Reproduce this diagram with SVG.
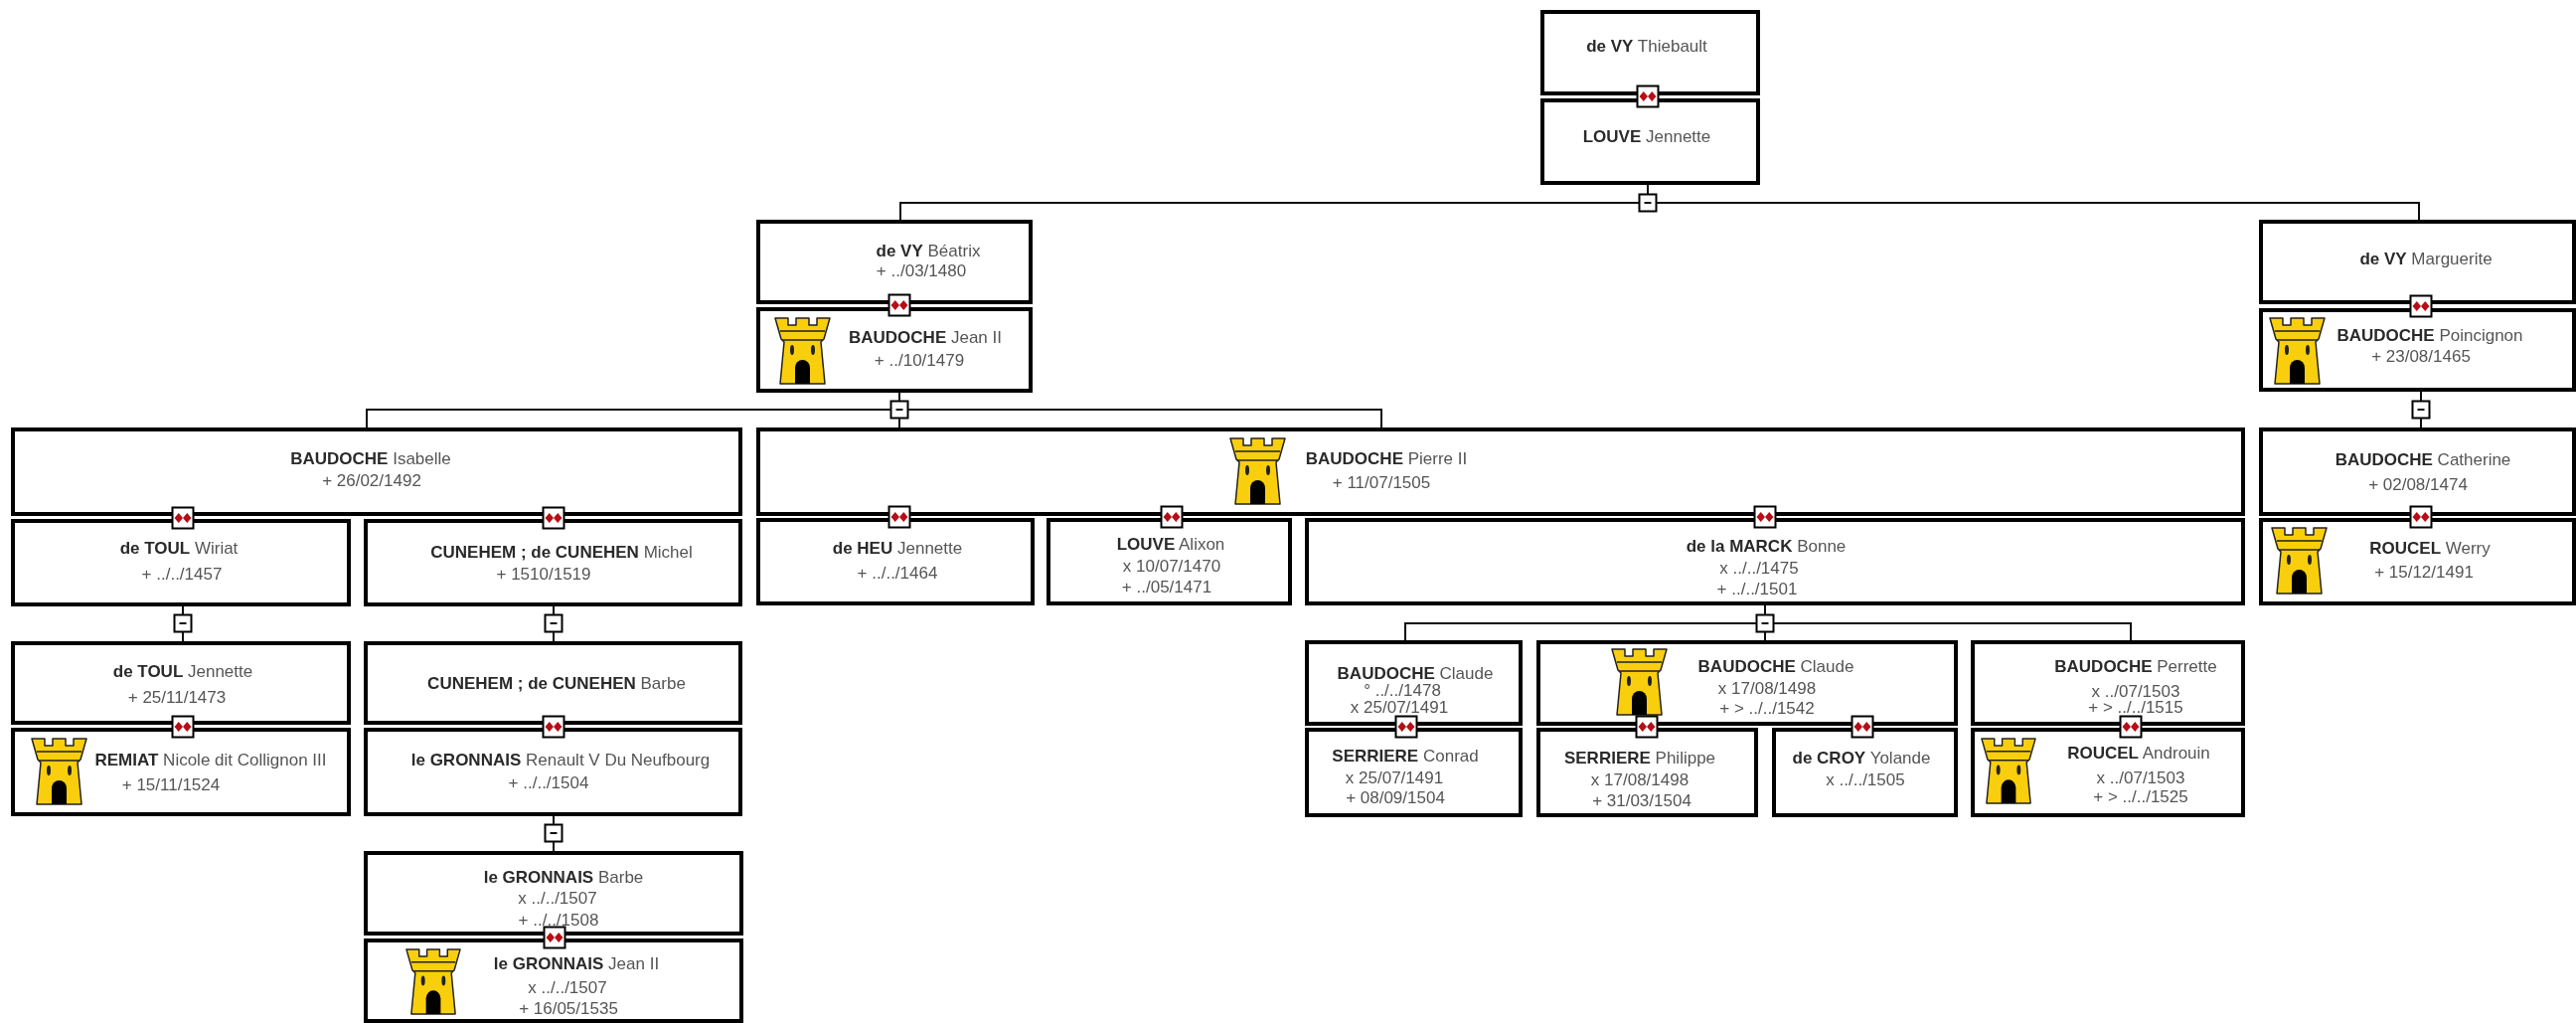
<svg xmlns="http://www.w3.org/2000/svg" width="2592" height="1029" viewBox="0 0 2592 1029">
<style>
text{font-family:"Liberation Sans",Arial,sans-serif;font-size:17px;fill:#555;text-anchor:middle}
tspan.b{font-weight:700;fill:#2a2a2a}
.box{fill:#fff;stroke:#000;stroke-width:4}
.c{fill:none;stroke:#111;stroke-width:2}
.s{fill:#fff;stroke:#000;stroke-width:2}
.d{fill:#b81018}
.m{fill:#111}
</style>
<defs>
<filter id="soft" filterUnits="userSpaceOnUse" x="0" y="0" width="2592" height="1029"><feGaussianBlur stdDeviation="0.45"/></filter>
<symbol id="tower" viewBox="0 0 57 68">
<path d="M1 1H14V8H22V1H35V8H43V1H56L50 22L47 25L51 67H6L10 25L7 22Z" fill="#f9cf0a" stroke="#222" stroke-width="1.5" stroke-linejoin="round"/>
<path d="M6 14H51M8 23H49" fill="none" stroke="#222" stroke-width="1.5"/>
<ellipse cx="18" cy="33" rx="2" ry="5" fill="#222"/><ellipse cx="39" cy="33" rx="2" ry="5" fill="#222"/>
<path d="M21 67V51A7.500 8 0 0 1 36 51V67Z" fill="#000"/>
</symbol>
<g id="wed"><rect class="s" x="-10.500" y="-10.500" width="21" height="21"/><path class="d" d="M-8.500 0L-4.250 -5L0 0L4.250 -5L8.500 0L4.250 5L0 0L-4.250 5Z"/></g>
<g id="minus"><rect class="s" x="-8.500" y="-8.500" width="17" height="17"/><rect class="m" x="-3.500" y="-1" width="7" height="2"/></g>
</defs>
<rect width="2592" height="1029" fill="#fff"/>
<g id="diagram" filter="url(#soft)">
<g id="connectors">
<path class="c" d="M1658 184V204M906 223V204H2434V223M905 393V432M369 432V412H1390V432M184 608V647M557 608V647M557 819V858M2436 392V431M1776 607V627M1414 646V627H2144V646M1776 627V646"/>
</g>
<g id="n1"><rect class="box" x="1552" y="12" width="217" height="82"/><text x="1657" y="52"><tspan class="b">de VY</tspan> Thiebault</text></g>
<g id="n2"><rect class="box" x="1552" y="101" width="217" height="83"/><text x="1657" y="143"><tspan class="b">LOUVE</tspan> Jennette</text></g>
<g id="n3"><rect class="box" x="763" y="223" width="274" height="81"/><text x="934" y="258"><tspan class="b">de VY</tspan> Béatrix</text><text x="927" y="278">+ ../03/1480</text></g>
<g id="n4"><rect class="box" x="763" y="311" width="274" height="82"/><use href="#tower" x="779" y="319" width="57" height="68"/><text x="931" y="345"><tspan class="b">BAUDOCHE</tspan> Jean II</text><text x="925" y="368">+ ../10/1479</text></g>
<g id="n5"><rect class="box" x="2275" y="223" width="315" height="81"/><text x="2441" y="266"><tspan class="b">de VY</tspan> Marguerite</text></g>
<g id="n6"><rect class="box" x="2275" y="312" width="315" height="80"/><use href="#tower" x="2283" y="319" width="57" height="68"/><text x="2445" y="343"><tspan class="b">BAUDOCHE</tspan> Poincignon</text><text x="2436" y="364">+ 23/08/1465</text></g>
<g id="n7"><rect class="box" x="2275" y="432" width="315" height="85"/><text x="2438" y="468"><tspan class="b">BAUDOCHE</tspan> Catherine</text><text x="2433" y="493">+ 02/08/1474</text></g>
<g id="n8"><rect class="box" x="2275" y="523" width="315" height="84"/><use href="#tower" x="2285" y="529" width="57" height="70"/><text x="2445" y="557"><tspan class="b">ROUCEL</tspan> Werry</text><text x="2439" y="581">+ 15/12/1491</text></g>
<g id="n9"><rect class="box" x="13" y="432" width="732" height="85"/><text x="373" y="467"><tspan class="b">BAUDOCHE</tspan> Isabelle</text><text x="374" y="489">+ 26/02/1492</text></g>
<g id="n10"><rect class="box" x="763" y="432" width="1494" height="85"/><use href="#tower" x="1237" y="439" width="57" height="70"/><text x="1395" y="467"><tspan class="b">BAUDOCHE</tspan> Pierre II</text><text x="1390" y="491">+ 11/07/1505</text></g>
<g id="n11"><rect class="box" x="13" y="524" width="338" height="84"/><text x="180" y="557"><tspan class="b">de TOUL</tspan> Wiriat</text><text x="183" y="583">+ ../../1457</text></g>
<g id="n12"><rect class="box" x="368" y="524" width="377" height="84"/><text x="565" y="561"><tspan class="b">CUNEHEM ; de CUNEHEN</tspan> Michel</text><text x="547" y="583">+ 1510/1519</text></g>
<g id="n13"><rect class="box" x="763" y="523" width="276" height="84"/><text x="903" y="557"><tspan class="b">de HEU</tspan> Jennette</text><text x="903" y="582">+ ../../1464</text></g>
<g id="n14"><rect class="box" x="1055" y="523" width="243" height="84"/><text x="1178" y="553"><tspan class="b">LOUVE</tspan> Alixon</text><text x="1179" y="575">x 10/07/1470</text><text x="1174" y="596">+ ../05/1471</text></g>
<g id="n15"><rect class="box" x="1315" y="523" width="942" height="84"/><text x="1777" y="555"><tspan class="b">de la MARCK</tspan> Bonne</text><text x="1770" y="577">x ../../1475</text><text x="1768" y="598">+ ../../1501</text></g>
<g id="n16"><rect class="box" x="13" y="647" width="338" height="80"/><text x="184" y="681"><tspan class="b">de TOUL</tspan> Jennette</text><text x="178" y="707">+ 25/11/1473</text></g>
<g id="n17"><rect class="box" x="13" y="734" width="338" height="85"/><use href="#tower" x="31" y="742" width="57" height="68"/><text x="212" y="770"><tspan class="b">REMIAT</tspan> Nicole dit Collignon III</text><text x="172" y="795">+ 15/11/1524</text></g>
<g id="n18"><rect class="box" x="368" y="647" width="377" height="80"/><text x="560" y="693"><tspan class="b">CUNEHEM ; de CUNEHEN</tspan> Barbe</text></g>
<g id="n19"><rect class="box" x="368" y="734" width="377" height="85"/><text x="564" y="770"><tspan class="b">le GRONNAIS</tspan> Renault V Du Neufbourg</text><text x="552" y="793">+ ../../1504</text></g>
<g id="n20"><rect class="box" x="368" y="858" width="378" height="81"/><text x="567" y="888"><tspan class="b">le GRONNAIS</tspan> Barbe</text><text x="561" y="909">x ../../1507</text><text x="562" y="931">+ ../../1508</text></g>
<g id="n21"><rect class="box" x="368" y="946" width="378" height="81"/><use href="#tower" x="408" y="953" width="56" height="69"/><text x="580" y="975"><tspan class="b">le GRONNAIS</tspan> Jean II</text><text x="571" y="999">x ../../1507</text><text x="572" y="1020">+ 16/05/1535</text></g>
<g id="n22"><rect class="box" x="1315" y="646" width="215" height="82"/><text x="1424" y="683"><tspan class="b">BAUDOCHE</tspan> Claude</text><text x="1411" y="700">° ../../1478</text><text x="1408" y="717">x 25/07/1491</text></g>
<g id="n23"><rect class="box" x="1315" y="734" width="215" height="86"/><text x="1414" y="766"><tspan class="b">SERRIERE</tspan> Conrad</text><rect x="1320" y="750" width="21" height="20" fill="#fff"/><text x="1403" y="788">x 25/07/1491</text><text x="1404" y="808">+ 08/09/1504</text></g>
<g id="n24"><rect class="box" x="1548" y="646" width="420" height="82"/><use href="#tower" x="1621" y="652" width="57" height="68"/><text x="1787" y="676"><tspan class="b">BAUDOCHE</tspan> Claude</text><text x="1778" y="698">x 17/08/1498</text><text x="1778" y="718">+ &gt; ../../1542</text></g>
<g id="n25"><rect class="box" x="1548" y="734" width="219" height="86"/><text x="1650" y="768"><tspan class="b">SERRIERE</tspan> Philippe</text><text x="1650" y="790">x 17/08/1498</text><text x="1652" y="811">+ 31/03/1504</text></g>
<g id="n26"><rect class="box" x="1785" y="734" width="183" height="86"/><text x="1873" y="768"><tspan class="b">de CROY</tspan> Yolande</text><text x="1877" y="790">x ../../1505</text></g>
<g id="n27"><rect class="box" x="1985" y="646" width="272" height="82"/><text x="2149" y="676"><tspan class="b">BAUDOCHE</tspan> Perrette</text><text x="2149" y="701">x ../07/1503</text><text x="2149" y="717">+ &gt; ../../1515</text></g>
<g id="n28"><rect class="box" x="1985" y="734" width="272" height="86"/><use href="#tower" x="1993" y="742" width="56" height="67"/><text x="2152" y="763"><tspan class="b">ROUCEL</tspan> Androuin</text><text x="2154" y="788">x ../07/1503</text><text x="2154" y="807">+ &gt; ../../1525</text></g>
<g id="junctions">
<use href="#minus" x="1658" y="204"/><use href="#minus" x="905" y="412"/><use href="#minus" x="2436" y="412"/><use href="#minus" x="184" y="627"/><use href="#minus" x="557" y="627"/><use href="#minus" x="557" y="838"/><use href="#minus" x="1776" y="627"/>
<use href="#wed" x="1658" y="97"/><use href="#wed" x="905" y="307"/><use href="#wed" x="2436" y="308"/><use href="#wed" x="2436" y="520"/><use href="#wed" x="184" y="521"/><use href="#wed" x="557" y="521"/><use href="#wed" x="905" y="520"/><use href="#wed" x="1179" y="520"/><use href="#wed" x="1776" y="520"/><use href="#wed" x="184" y="731"/><use href="#wed" x="557" y="731"/><use href="#wed" x="558" y="943"/><use href="#wed" x="1415" y="731"/><use href="#wed" x="1657" y="731"/><use href="#wed" x="1874" y="731"/><use href="#wed" x="2144" y="731"/>
</g>
</g>
</svg>
